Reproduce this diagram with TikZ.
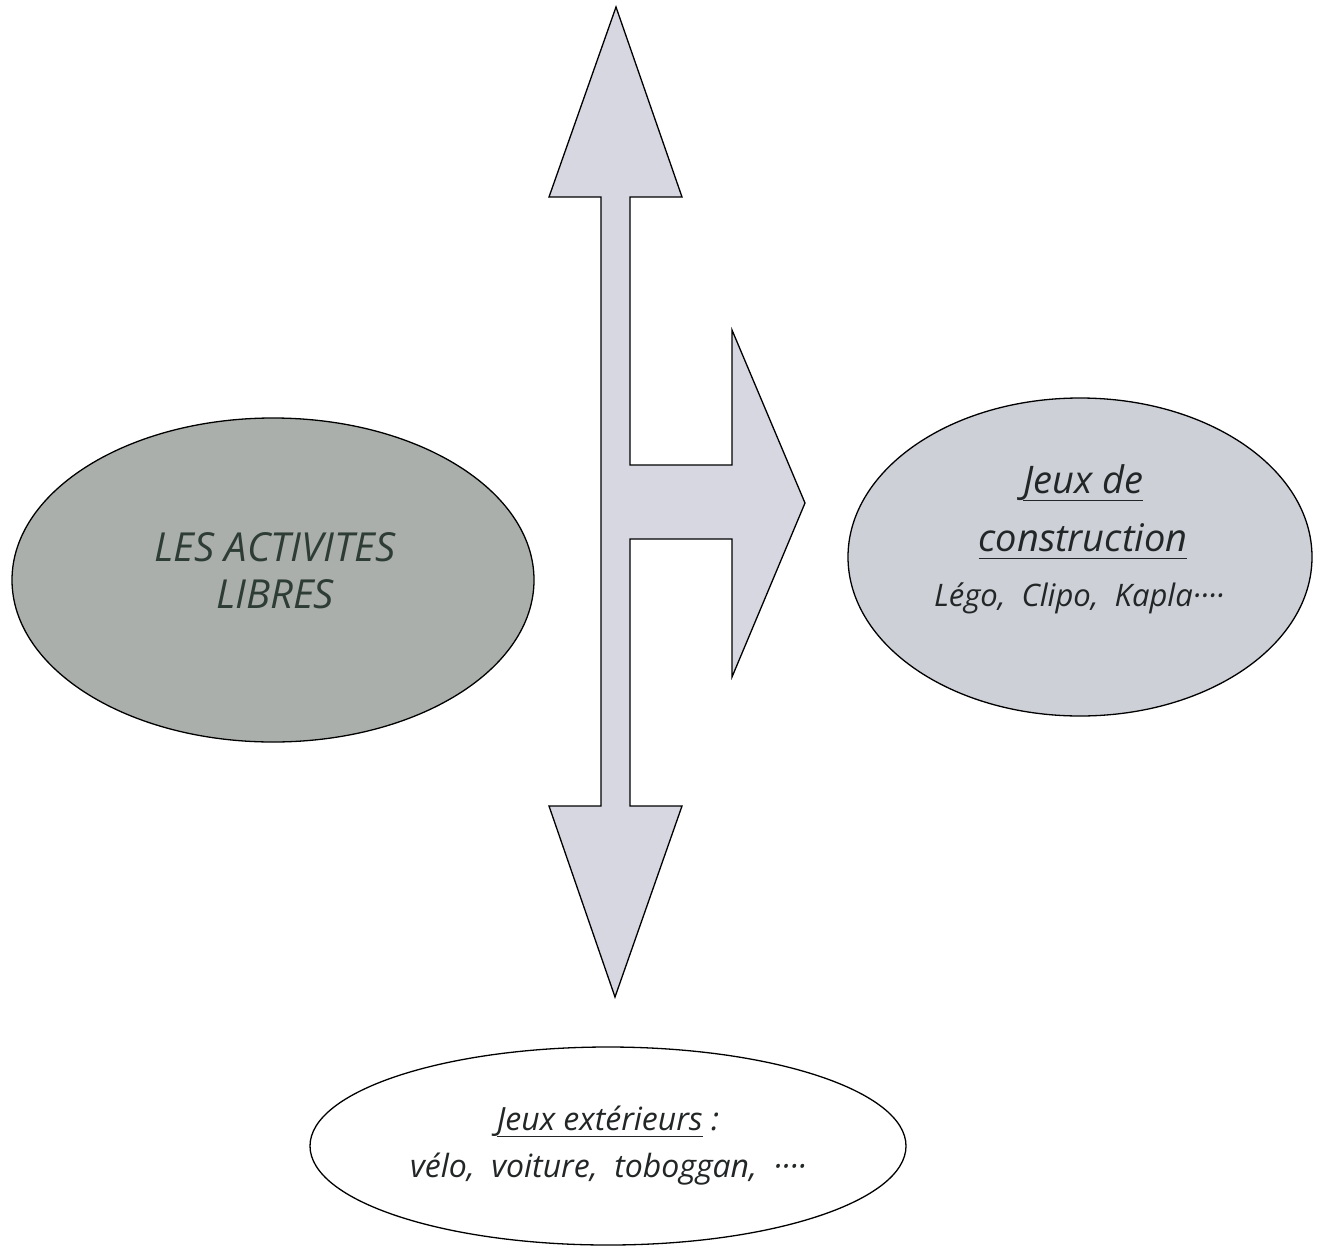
\documentclass[tikz,border=0pt]{standalone}
\usepackage{fontspec}
\setmainfont{Open Sans}
\usetikzlibrary{shapes.geometric}
\definecolor{grisfonce}{RGB}{170,175,172}
\definecolor{grisclair}{RGB}{206,208,216}
\definecolor{flechegris}{RGB}{214,215,224}
\definecolor{encre}{RGB}{34,38,38}
\definecolor{encrevert}{RGB}{46,60,54}
\newcommand\souligne[1]{\setbox0\hbox{#1}\rlap{\rule[-0.2em]{\wd0}{1.6pt}}\box0\relax}
\tikzset{
  bulle/.style={draw=black, line width=1.3pt, ellipse, inner sep=0pt},
  texte/.style={align=center, text=encre, inner sep=0pt, font=\itshape},
}
\begin{document}
\begin{tikzpicture}[x=1pt,y=-1pt]
\useasboundingbox (0,0) rectangle (1321,1247);
\draw [black, line width=1.3pt, fill=flechegris, line join=miter]
  (616,7) -- (682,197) -- (630,197) -- (630,465) -- (732,465) -- (732,330)
  -- (805,503) -- (732,677) -- (732,539) -- (630,539) -- (630,806) -- (682,806)
  -- (615,997) -- (549,806) -- (601,806) -- (601,197) -- (549,197) -- cycle;
\node [bulle, fill=grisfonce, minimum width=522pt, minimum height=324pt] (libres) at (273,580) {};
\node [texte, font=\itshape\fontsize{40}{47}\selectfont, text=encrevert] (libres-t) at (275,571) {LES ACTIVITES\\LIBRES};
\node [bulle, fill=grisclair, minimum width=464pt, minimum height=318pt] (constr) at (1080,557) {};
\node [texte, font=\itshape\fontsize{38}{58}\selectfont] (constr-t) at (1083,512) {\souligne{Jeux de}\\\souligne{construction}};
\node [texte, font=\itshape\fontsize{31}{30}\selectfont] (constr-ex) at (1079,598) {Légo,\ \ Clipo,\ \ Kapla····};
\node [bulle, fill=white, minimum width=596pt, minimum height=198pt] (exter) at (608,1146) {};
\node [texte, font=\itshape\fontsize{32}{47}\selectfont] (exter-t) at (608,1146) {\souligne{Jeux extérieurs} :\\vélo,\ \ voiture,\ \ toboggan,\ \ ····};
\end{tikzpicture}
\end{document}
